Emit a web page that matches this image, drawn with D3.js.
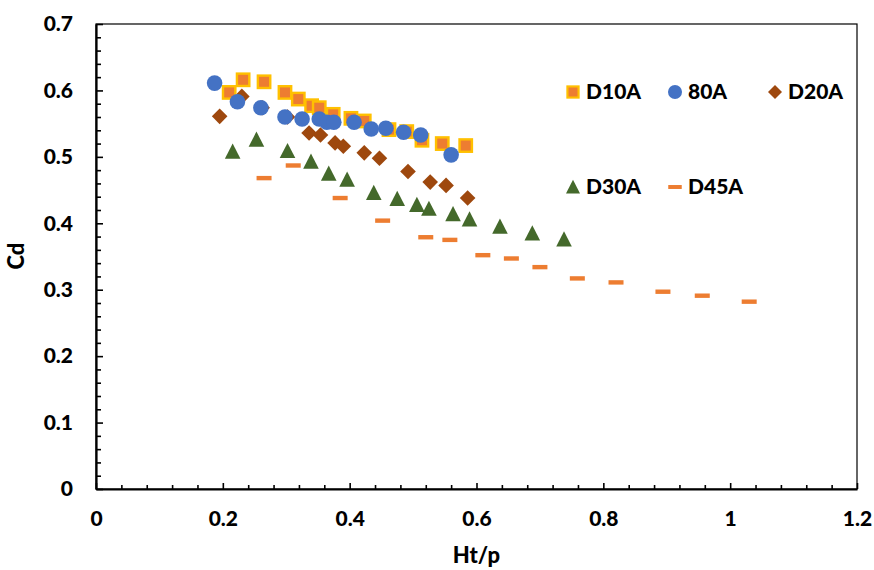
<!DOCTYPE html>
<html><head><meta charset="utf-8">
<script src="https://cdn.jsdelivr.net/npm/d3@7"></script>
<style>body{margin:0;background:#fff}svg{display:block}text{font-family:Lato,"Liberation Sans",sans-serif;font-weight:900}</style>
</head><body><svg id="c" width="874" height="570"></svg>
<script>
const xTicks = [0, 0.2, 0.4, 0.6, 0.8, 1, 1.2];
const yTicks = [0, 0.1, 0.2, 0.3, 0.4, 0.5, 0.6, 0.7];
const xTitle = "Ht/p";
const yTitle = "Cd";

const d10aX = [0.210,0.232,0.265,0.298,0.319,0.340,0.352,0.374,0.402,0.423,0.462,0.490,0.514,0.546,0.583];
const d10aY = [0.597,0.616,0.613,0.597,0.587,0.577,0.574,0.564,0.558,0.554,0.541,0.538,0.525,0.520,0.517];
const a80X = [0.187,0.223,0.260,0.298,0.325,0.352,0.364,0.375,0.407,0.434,0.457,0.485,0.512,0.560];
const a80Y = [0.611,0.583,0.574,0.560,0.557,0.557,0.552,0.552,0.552,0.542,0.543,0.537,0.533,0.503];
const d20aX = [0.195,0.230,0.262,0.302,0.336,0.354,0.377,0.390,0.423,0.447,0.492,0.527,0.552,0.586];
const d20aY = [0.561,0.591,0.574,0.560,0.536,0.533,0.521,0.516,0.506,0.498,0.478,0.462,0.457,0.438];
const d30aX = [0.2155,0.253,0.302,0.339,0.367,0.396,0.438,0.475,0.506,0.525,0.563,0.589,0.637,0.688,0.738];
const d30aY = [0.508,0.526,0.509,0.493,0.475,0.466,0.446,0.437,0.428,0.422,0.414,0.406,0.395,0.385,0.376];
const d45aX = [0.265,0.311,0.385,0.452,0.520,0.558,0.610,0.655,0.700,0.759,0.820,0.894,0.956,1.030];
const d45aY = [0.468,0.487,0.438,0.404,0.379,0.375,0.352,0.347,0.334,0.317,0.311,0.297,0.291,0.282];

const series = [
  {name:"D20A", xs:d20aX, ys:d20aY, shape:"diamond"},
  {name:"D30A", xs:d30aX, ys:d30aY, shape:"triangle"},
  {name:"D45A", xs:d45aX, ys:d45aY, shape:"dash"},
  {name:"D10A", xs:d10aX, ys:d10aY, shape:"square"},
  {name:"80A", xs:a80X, ys:a80Y, shape:"circle"}
];

const L=96, R=857, T=24, B=489;
const x = d3.scaleLinear().domain([0,1.2]).range([L,R]);
const y = d3.scaleLinear().domain([0,0.7]).range([B,T]);
const svg = d3.select("#c");

function drawMarker(g, shape){
  if(shape==="square") g.append("rect").attr("x",-6.2).attr("y",-6.2).attr("width",12.4).attr("height",12.4).attr("fill","#ED7D31").attr("stroke","#FFC000").attr("stroke-width",2.4);
  else if(shape==="circle") g.append("circle").attr("r",7.8).attr("fill","#4472C4");
  else if(shape==="diamond") g.append("path").attr("d","M0,-7.8L7.8,0L0,7.8L-7.8,0Z").attr("fill","#9E480E");
  else if(shape==="triangle") g.append("path").attr("d","M0,-8L7.8,7.2L-7.8,7.2Z").attr("fill","#44692B");
  else if(shape==="dash") g.append("rect").attr("x",-7.5).attr("y",-2.2).attr("width",15).attr("height",4.4).attr("fill","#ED7D31");
}

// frame
svg.append("rect").attr("x",L).attr("y",T).attr("width",R-L).attr("height",B-T).attr("fill","none").attr("stroke","#000").attr("stroke-width",1.2);

// points
series.forEach(s=>{
  const g = svg.append("g");
  s.xs.forEach((xv,i)=>{
    const m = g.append("g").attr("transform",`translate(${x(xv)},${y(s.ys[i])})`);
    drawMarker(m, s.shape);
  });
});

// y axis
const yAxis = d3.axisLeft(y).tickValues(d3.range(0,0.7001,0.02)).tickSize(0).tickFormat("");
const ya = svg.append("g").attr("transform",`translate(${L},0)`).call(yAxis);
ya.select(".domain").attr("stroke","#000").attr("stroke-width",2.2);
ya.selectAll(".tick line").attr("x2",(d)=> Math.abs(d*10-Math.round(d*10))<1e-6 ? 7 : 5).attr("stroke","#000").attr("stroke-width",1.6);
const yl = svg.append("g").attr("transform",`translate(${L},0)`).call(d3.axisLeft(y).tickValues(yTicks).tickSize(0).tickPadding(23).tickFormat(d=>d===0?"0":d3.format(".1f")(d)));
yl.select(".domain").remove();
yl.selectAll("text").attr("font-size",21).attr("fill","#000").attr("font-family","Lato, sans-serif").attr("font-weight","900");

// x axis
const xa = svg.append("g").attr("transform",`translate(0,${B})`).call(d3.axisBottom(x).tickValues(d3.range(0,1.2001,0.04)).tickSize(0).tickFormat(""));
xa.select(".domain").attr("stroke","#000").attr("stroke-width",2.2);
xa.selectAll(".tick line").attr("y2",(d)=> Math.abs(d*5-Math.round(d*5))<1e-6 ? -6 : -4).attr("stroke","#000").attr("stroke-width",1.6);
const xl = svg.append("g").attr("transform",`translate(0,${B})`).call(d3.axisBottom(x).tickValues(xTicks).tickSize(0).tickPadding(22).tickFormat(d=>d3.format("~g")(d)));
xl.select(".domain").remove();
xl.selectAll("text").attr("font-size",21).attr("fill","#000").attr("font-family","Lato, sans-serif").attr("font-weight","900");

// titles
svg.append("text").attr("x",(L+R)/2).attr("y",563).attr("text-anchor","middle").attr("font-size",22).text(xTitle);
svg.append("text").attr("transform","translate(24,256) rotate(-90)").attr("text-anchor","middle").attr("font-size",22).text(yTitle);

// legend
const legendItems = [
  {name:"D10A", shape:"square", mx:573, ty:92},
  {name:"80A", shape:"circle", mx:675, ty:92},
  {name:"D20A", shape:"diamond", mx:775, ty:92},
  {name:"D30A", shape:"triangle", mx:573, ty:187},
  {name:"D45A", shape:"dash", mx:675, ty:187}
];
legendItems.forEach(it=>{
  const g = svg.append("g").attr("transform",`translate(${it.mx},${it.ty})`);
  const m = g.append("g").attr("transform","scale(0.9)");
  drawMarker(m, it.shape);
  g.append("text").attr("x",13).attr("y",0).attr("dy","0.35em").attr("font-size",21).attr("fill","#000").text(it.name);
});
</script></body></html>
